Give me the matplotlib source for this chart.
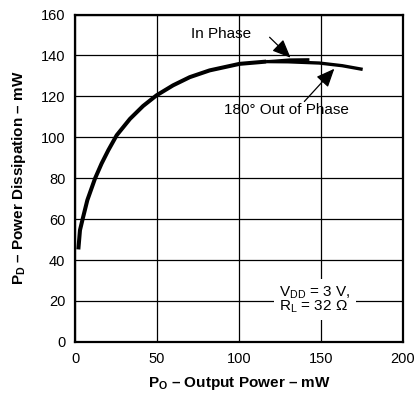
import numpy as np
import matplotlib.pyplot as plt

plt.rcParams['font.family'] = ['Liberation Sans', 'DejaVu Sans']
plt.rcParams['mathtext.fontset'] = 'custom'
plt.rcParams['mathtext.rm'] = 'Liberation Sans'
plt.rcParams['mathtext.bf'] = 'Liberation Sans:bold'
plt.rcParams['mathtext.it'] = 'Liberation Sans:italic'

# shared rising part of both curves
po_common = [2.0, 3.0, 4.7, 7.5, 12.2, 16.2, 20.3, 25.4, 33.5, 41.5, 49.7,
             59.8, 70.0, 82.1, 100.4, 116.6]
pd_common = [45.2, 54.6, 60.3, 69.3, 79.9, 87.2, 93.7, 101.0, 109.0, 115.3, 120.5,
             125.4, 129.4, 132.7, 135.9, 137.0]

# in phase tail
po_in = [116.6, 131.0, 143.0]
pd_in = [137.0, 137.9, 138.0]

# 180 deg out of phase tail
po_out = [116.6, 130.0, 149.0, 163.0, 175.5]
pd_out = [137.0, 136.9, 136.3, 135.0, 133.2]

fig = plt.figure(figsize=(4.17, 3.93), dpi=100)
ax = fig.add_axes([0.18, 0.13, 0.786, 0.833])

ax.plot(po_common, pd_common, color='black', lw=2.9, solid_joinstyle='round',
        solid_capstyle='butt', zorder=3)
ax.plot(po_in, pd_in, color='black', lw=2.0, solid_joinstyle='round',
        solid_capstyle='butt', zorder=3)
ax.plot(po_out, pd_out, color='black', lw=2.4, solid_joinstyle='round',
        solid_capstyle='butt', zorder=3)

ax.set_xlim(0, 200)
ax.set_ylim(0, 160)
ax.set_xticks(np.arange(0, 201, 50))
ax.set_yticks(np.arange(0, 161, 20))
ax.grid(True, color='black', lw=0.9)
ax.set_axisbelow(True)
ax.tick_params(length=0, pad=7, labelsize=10.5)
for s in ax.spines.values():
    s.set_linewidth(1.6)

ax.set_xlabel(r'$\mathbf{P_O}$ – Output Power – mW', fontsize=11, fontweight='bold',
              labelpad=7)
ax.set_ylabel(r'$\mathbf{P_D}$ – Power Dissipation – mW', fontsize=11,
              fontweight='bold', labelpad=9)

arrow = dict(arrowstyle='-|>,head_length=0.7,head_width=0.3', color='black',
             lw=0.9, mutation_scale=16, shrinkA=0, shrinkB=0)

ax.text(70.6, 150.5, 'In Phase', fontsize=11, ha='left', va='center')
ax.annotate('', xy=(131.5, 138.9), xytext=(118.7, 148.9), arrowprops=arrow)
ax.annotate('', xy=(158.2, 133.5), xytext=(139.9, 117.5), arrowprops=arrow)
ax.text(129, 113.2, '180° Out of Phase', fontsize=11, ha='center', va='center')

ax.text(124.7, 20.8, 'V$_{\\mathrm{DD}}$ = 3 V,\nR$_{\\mathrm{L}}$ = 32 Ω', fontsize=11,
        ha='left', va='center', linespacing=0.8,
        bbox=dict(facecolor='white', edgecolor='none', pad=4))

fig.savefig('out.png', dpi=100)
